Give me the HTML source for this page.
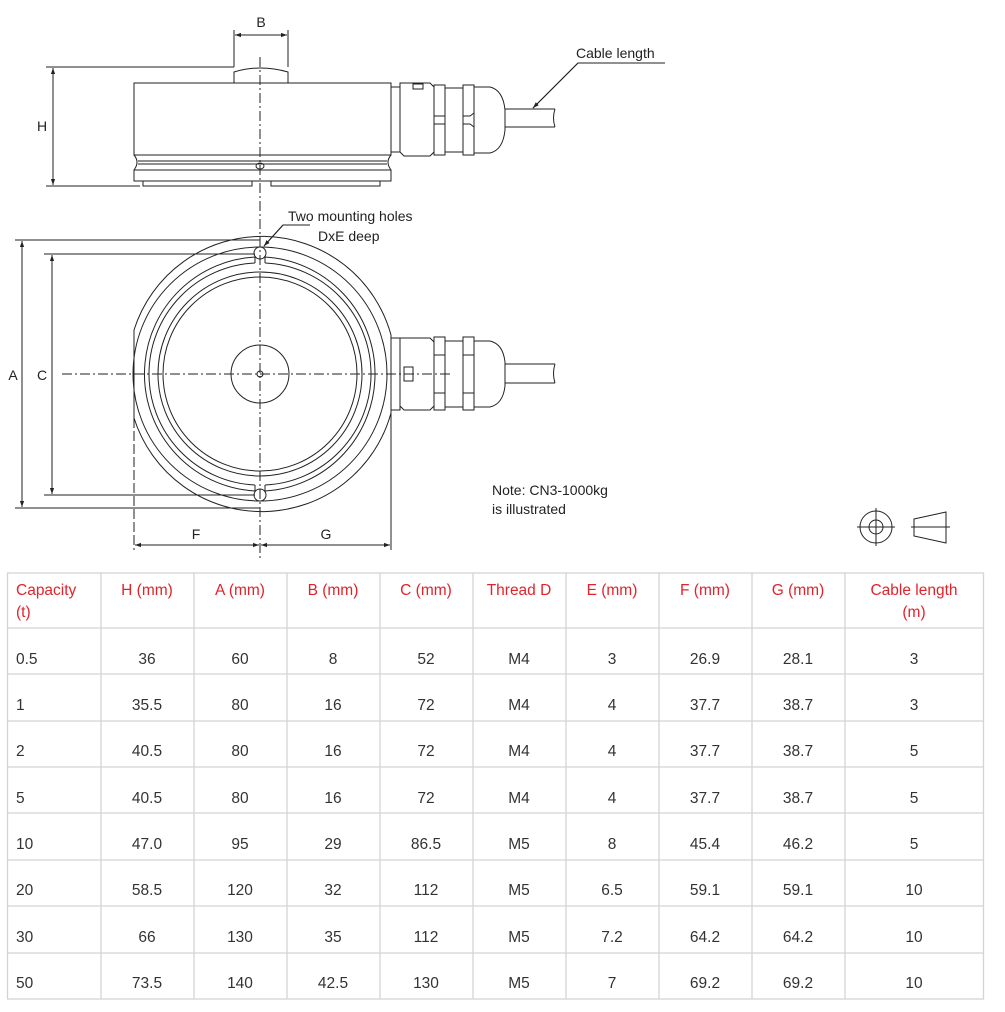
<!DOCTYPE html>
<html><head><meta charset="utf-8"><style>
html,body{margin:0;padding:0;background:#fff;}
body{width:1005px;height:1012px;position:relative;overflow:hidden;font-family:"Liberation Sans",sans-serif;}
svg{position:absolute;left:0;top:0;}
</style></head><body>
<svg width="1005" height="1012" viewBox="0 0 1005 1012" xmlns="http://www.w3.org/2000/svg" font-family="Liberation Sans, sans-serif">
<defs>
<marker id="ar" viewBox="0 0 10 10" refX="10" refY="5" markerWidth="9" markerHeight="6" orient="auto-start-reverse" markerUnits="userSpaceOnUse"><path d="M0,1.5 L10,5 L0,8.5 z" fill="#222"/></marker>
</defs>
<g stroke="#222" stroke-width="1" fill="none">
<!-- center line -->
<line x1="260" y1="57" x2="260" y2="560" stroke-dasharray="10,3,2,3"/>
<line x1="62" y1="374" x2="450" y2="374" stroke-dasharray="10,3,2,3"/>
<!-- SIDE VIEW -->
<path d="M234,83 L234,72 Q260,64 288,72 L288,83"/>
<line x1="160" y1="83" x2="360" y2="83"/>
<rect x="134" y="83" width="257" height="72"/>
<path d="M134,155 Q140,162 134,170 M391,155 Q385,162 391,170"/>
<line x1="138" y1="161" x2="387" y2="161"/>
<line x1="138" y1="164" x2="387" y2="164"/>
<rect x="134" y="170" width="257" height="11"/>
<path d="M143,181 L143,186 L252,186 L252,181 M271,181 L271,186 L380,186 L380,181"/>
<ellipse cx="260" cy="166" rx="4" ry="3"/>
<!-- side connector -->
<rect x="391" y="87" width="9" height="65"/>
<path d="M400,83 L430,83 L434,87 L434,152 L430,156 L404,156 L400,152 Z"/>
<rect x="413" y="84" width="10" height="5"/>
<rect x="434" y="85" width="11" height="70"/>
<line x1="434" y1="116" x2="445" y2="116"/><line x1="434" y1="124" x2="445" y2="124"/>
<rect x="445" y="88" width="18" height="64"/>
<rect x="463" y="85" width="11" height="70"/>
<path d="M463,116 L470,116 L474,113 M463,124 L470,124 L474,127"/>
<path d="M474,87 L490,87 Q503,90 505,110 L505,130 Q503,150 490,153 L474,153"/>
<path d="M505,109 L555,109 M505,127 L555,127 M555,109 Q552,118 555,127"/>
<!-- cable leader -->
<path d="M665,63 L578,63 L533,108" />
<line x1="578" y1="63" x2="533" y2="108" marker-end="url(#ar)"/>
<!-- B dim -->
<line x1="234" y1="30" x2="234" y2="67"/><line x1="288" y1="30" x2="288" y2="67"/>
<line x1="235" y1="35" x2="287" y2="35" marker-start="url(#ar)" marker-end="url(#ar)"/>
<!-- H dim -->
<line x1="46" y1="67" x2="234" y2="67"/><line x1="46" y1="186" x2="140" y2="186"/>
<line x1="53" y1="68" x2="53" y2="185" marker-start="url(#ar)" marker-end="url(#ar)"/>
<!-- PLAN VIEW -->
<path d="M134,330 A134,134 0 0 1 391,335 L391,413 A134,134 0 0 1 134,418 Z"/>
<circle cx="260" cy="374" r="127"/>
<path d="M255,257 A117,117 0 0 0 145,363 A117,117 0 0 0 255,491 M265,257 A117,117 0 0 1 375,374 A117,117 0 0 1 265,491" stroke-width="1"/>
<path d="M255,263 A111,111 0 0 0 149,374 A111,111 0 0 0 255,485 M265,263 A111,111 0 0 1 371,374 A111,111 0 0 1 265,485"/>
<line x1="255" y1="257" x2="255" y2="263"/><line x1="265" y1="257" x2="265" y2="263"/>
<line x1="255" y1="485" x2="255" y2="491"/><line x1="265" y1="485" x2="265" y2="491"/>
<circle cx="260" cy="374" r="102"/>
<circle cx="260" cy="374" r="97"/>
<circle cx="260" cy="374" r="29"/>
<circle cx="260" cy="374" r="3"/>
<circle cx="260" cy="253" r="6"/><circle cx="260" cy="495" r="6"/>
<!-- plan connector -->
<rect x="391" y="338" width="9" height="72"/>
<path d="M400,338 L430,338 L434,342 L434,406 L430,410 L404,410 L400,406 Z"/>
<rect x="404" y="367" width="9" height="14"/>
<rect x="434" y="337" width="11" height="73"/>
<line x1="434" y1="355" x2="445" y2="355"/><line x1="434" y1="393" x2="445" y2="393"/>
<rect x="445" y="341" width="18" height="66"/>
<rect x="463" y="337" width="11" height="73"/>
<path d="M463,355 L474,355 M463,393 L474,393"/>
<path d="M474,341 L490,341 Q503,344 505,362 L505,386 Q503,404 490,407 L474,407"/>
<path d="M505,364 L555,364 M505,383 L555,383 M555,364 Q552,373 555,383"/>
<!-- mounting holes leader -->
<path d="M310,225 L283,225 L264,246"/>
<line x1="283" y1="225" x2="264" y2="246" marker-end="url(#ar)"/>
<!-- A, C dims -->
<line x1="15" y1="240" x2="260" y2="240"/><line x1="15" y1="508" x2="260" y2="508"/>
<line x1="22" y1="241" x2="22" y2="507" marker-start="url(#ar)" marker-end="url(#ar)"/>
<line x1="44" y1="254" x2="255" y2="254"/><line x1="44" y1="495" x2="255" y2="495"/>
<line x1="52" y1="255" x2="52" y2="494" marker-start="url(#ar)" marker-end="url(#ar)"/>
<!-- F, G -->
<line x1="134" y1="418" x2="134" y2="550" stroke-dasharray="10,3"/>
<line x1="391" y1="413" x2="391" y2="550"/>
<line x1="135" y1="545" x2="259" y2="545" marker-start="url(#ar)" marker-end="url(#ar)"/>
<line x1="261" y1="545" x2="390" y2="545" marker-start="url(#ar)" marker-end="url(#ar)"/>
<!-- symbols -->
<circle cx="876" cy="527" r="16"/><circle cx="876" cy="527" r="7"/>
<line x1="857" y1="527" x2="895" y2="527"/><line x1="876" y1="508" x2="876" y2="546"/>
<path d="M914,519 L946,512 L946,543 L914,536 Z"/><line x1="911" y1="527" x2="950" y2="527"/>
</g>
<g fill="#222" font-size="14">
<text x="261" y="27" text-anchor="middle">B</text>
<text x="42" y="131" text-anchor="middle">H</text>
<text x="576" y="58">Cable length</text>
<text x="288" y="221">Two mounting holes</text>
<text x="318" y="241">DxE deep</text>
<text x="13" y="380" text-anchor="middle">A</text>
<text x="42" y="380" text-anchor="middle">C</text>
<text x="196" y="539" text-anchor="middle">F</text>
<text x="326" y="539" text-anchor="middle">G</text>
<text x="492" y="495">Note: CN3-1000kg</text>
<text x="492" y="514">is illustrated</text>
</g>
<!-- TABLE -->
<g stroke="#d4d4d4" stroke-width="1.3" fill="none">
<rect x="7.5" y="573" width="976" height="426"/>
<line x1="7" y1="628" x2="984" y2="628"/>
<line x1="7" y1="674" x2="984" y2="674"/>
<line x1="7" y1="721" x2="984" y2="721"/>
<line x1="7" y1="767" x2="984" y2="767"/>
<line x1="7" y1="813" x2="984" y2="813"/>
<line x1="7" y1="860" x2="984" y2="860"/>
<line x1="7" y1="906" x2="984" y2="906"/>
<line x1="7" y1="953" x2="984" y2="953"/>
<line x1="101" y1="573" x2="101" y2="999"/>
<line x1="194" y1="573" x2="194" y2="999"/>
<line x1="287" y1="573" x2="287" y2="999"/>
<line x1="380" y1="573" x2="380" y2="999"/>
<line x1="473" y1="573" x2="473" y2="999"/>
<line x1="566" y1="573" x2="566" y2="999"/>
<line x1="659" y1="573" x2="659" y2="999"/>
<line x1="752" y1="573" x2="752" y2="999"/>
<line x1="845" y1="573" x2="845" y2="999"/>
</g>
<g fill="#e2232b" font-size="15.5" text-anchor="middle">
<text x="16" y="595" text-anchor="start">Capacity</text>
<text x="16" y="617" text-anchor="start">(t)</text>
<text x="147" y="595">H (mm)</text>
<text x="240" y="595">A (mm)</text>
<text x="333" y="595">B (mm)</text>
<text x="426" y="595">C (mm)</text>
<text x="519" y="595">Thread D</text>
<text x="612" y="595">E (mm)</text>
<text x="705" y="595">F (mm)</text>
<text x="798" y="595">G (mm)</text>
<text x="914" y="595">Cable length</text>
<text x="914" y="617">(m)</text>
</g>
<g fill="#333" font-size="15.5" text-anchor="middle">
<g transform="translate(0,664)"><text x="16" text-anchor="start">0.5</text><text x="147">36</text><text x="240">60</text><text x="333">8</text><text x="426">52</text><text x="519">M4</text><text x="612">3</text><text x="705">26.9</text><text x="798">28.1</text><text x="914">3</text></g>
<g transform="translate(0,710)"><text x="16" text-anchor="start">1</text><text x="147">35.5</text><text x="240">80</text><text x="333">16</text><text x="426">72</text><text x="519">M4</text><text x="612">4</text><text x="705">37.7</text><text x="798">38.7</text><text x="914">3</text></g>
<g transform="translate(0,756)"><text x="16" text-anchor="start">2</text><text x="147">40.5</text><text x="240">80</text><text x="333">16</text><text x="426">72</text><text x="519">M4</text><text x="612">4</text><text x="705">37.7</text><text x="798">38.7</text><text x="914">5</text></g>
<g transform="translate(0,803)"><text x="16" text-anchor="start">5</text><text x="147">40.5</text><text x="240">80</text><text x="333">16</text><text x="426">72</text><text x="519">M4</text><text x="612">4</text><text x="705">37.7</text><text x="798">38.7</text><text x="914">5</text></g>
<g transform="translate(0,849)"><text x="16" text-anchor="start">10</text><text x="147">47.0</text><text x="240">95</text><text x="333">29</text><text x="426">86.5</text><text x="519">M5</text><text x="612">8</text><text x="705">45.4</text><text x="798">46.2</text><text x="914">5</text></g>
<g transform="translate(0,895)"><text x="16" text-anchor="start">20</text><text x="147">58.5</text><text x="240">120</text><text x="333">32</text><text x="426">112</text><text x="519">M5</text><text x="612">6.5</text><text x="705">59.1</text><text x="798">59.1</text><text x="914">10</text></g>
<g transform="translate(0,942)"><text x="16" text-anchor="start">30</text><text x="147">66</text><text x="240">130</text><text x="333">35</text><text x="426">112</text><text x="519">M5</text><text x="612">7.2</text><text x="705">64.2</text><text x="798">64.2</text><text x="914">10</text></g>
<g transform="translate(0,988)"><text x="16" text-anchor="start">50</text><text x="147">73.5</text><text x="240">140</text><text x="333">42.5</text><text x="426">130</text><text x="519">M5</text><text x="612">7</text><text x="705">69.2</text><text x="798">69.2</text><text x="914">10</text></g>
</g>
</svg>
</body></html>
